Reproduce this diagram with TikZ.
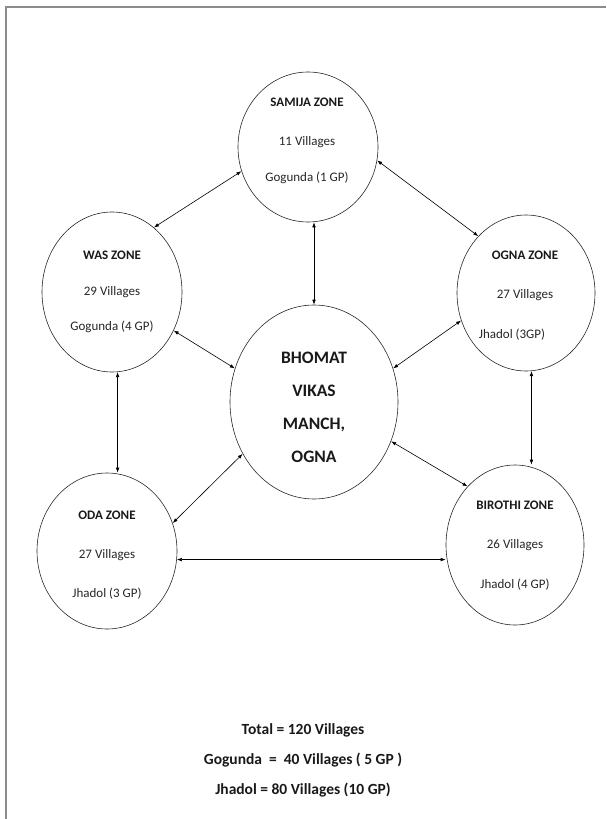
\documentclass[tikz,border=0pt]{standalone}
\usepackage{fontspec}
\setmainfont{Carlito}
\usetikzlibrary{shapes.geometric,arrows.meta}
\begin{document}
\begin{tikzpicture}[x=1pt,y=-1pt,
  zone/.style={ellipse,draw=black!85,line width=0.6pt,inner sep=0pt},
  ztitle/.style={font=\fontsize{13}{15}\selectfont\bfseries,text=black!90,inner sep=0pt},
  ztext/.style={font=\fontsize{13}{15}\selectfont,text=black!85,inner sep=0pt},
  link/.style={line width=0.6pt,black,{Latex[length=5pt,width=3.6pt]}-{Latex[length=5pt,width=3.6pt]}},
  frame/.style={draw=black!45,line width=1.2pt}
]
\useasboundingbox (0,0) rectangle (606,819);
\draw[frame] (606,7) -- (6,7) -- (6,819);

% zones
\node[zone,minimum width=140pt,minimum height=150pt] (samija) at (308,147) {};
\node[zone,minimum width=140pt,minimum height=160pt] (was) at (112,292) {};
\node[zone,minimum width=138pt,minimum height=156pt] (ogna) at (526,293) {};
\node[zone,minimum width=168pt,minimum height=194pt] (bvm) at (314,402) {};
\node[zone,minimum width=140pt,minimum height=156pt] (oda) at (107,551) {};
\node[zone,minimum width=138pt,minimum height=160pt] (birothi) at (515,545) {};

% texts
\node[ztitle] (samija1) at (307,102) {SAMIJA ZONE};
\node[ztext] (samija2) at (307,142) {11 Villages};
\node[ztext] (samija3) at (307,178) {Gogunda (1 GP)};

\node[ztitle] (was1) at (112,255) {WAS ZONE};
\node[ztext] (was2) at (112,292) {29 Villages};
\node[ztext] (was3) at (112,327) {Gogunda (4 GP)};

\node[ztitle] (ogna1) at (525,255) {OGNA ZONE};
\node[ztext] (ogna2) at (525,295) {27 Villages};
\node[ztext] (ogna3) at (512,335) {Jhadol (3GP)};

\node[ztitle] (oda1) at (107,515) {ODA ZONE};
\node[ztext] (oda2) at (107,555) {27 Villages};
\node[ztext] (oda3) at (107,594) {Jhadol (3 GP)};

\node[ztitle] (birothi1) at (515,505) {BIROTHI ZONE};
\node[ztext] (birothi2) at (515,545) {26 Villages};
\node[ztext] (birothi3) at (515,585) {Jhadol (4 GP)};

\node[font=\fontsize{17.5}{33}\selectfont\bfseries,text=black!90,align=center,inner sep=0pt] (bvmt) at (314,407) {BHOMAT\\VIKAS\\MANCH,\\OGNA};

% connectors
\draw[link] (samija.200) -- (was.57);
\draw[link] (samija.349) -- (ogna.130);
\draw[link] (samija.south -| bvm.north) -- (bvm.north);
\draw[link] (was.328) -- (bvm.157);
\draw[link] (ogna.203) -- (bvm.23);
\draw[link] (was.274) -- (was.274 |- oda.north);
\draw[link] (ogna.274) -- (ogna.274 |- birothi.north);
\draw[link] (oda.23) -- (bvm.216);
\draw[link] (birothi.129) -- (bvm.333);
\draw[link] (oda.353) -- (oda.353 -| birothi.west);

% totals
\node[font=\fontsize{15.5}{30}\selectfont\bfseries,text=black!90,align=center,inner sep=0pt] (totals) at (303,760)
  {Total = 120 Villages\\Gogunda \ = \ 40 Villages ( 5 GP )\\Jhadol = 80 Villages (10 GP)};
\end{tikzpicture}
\end{document}
